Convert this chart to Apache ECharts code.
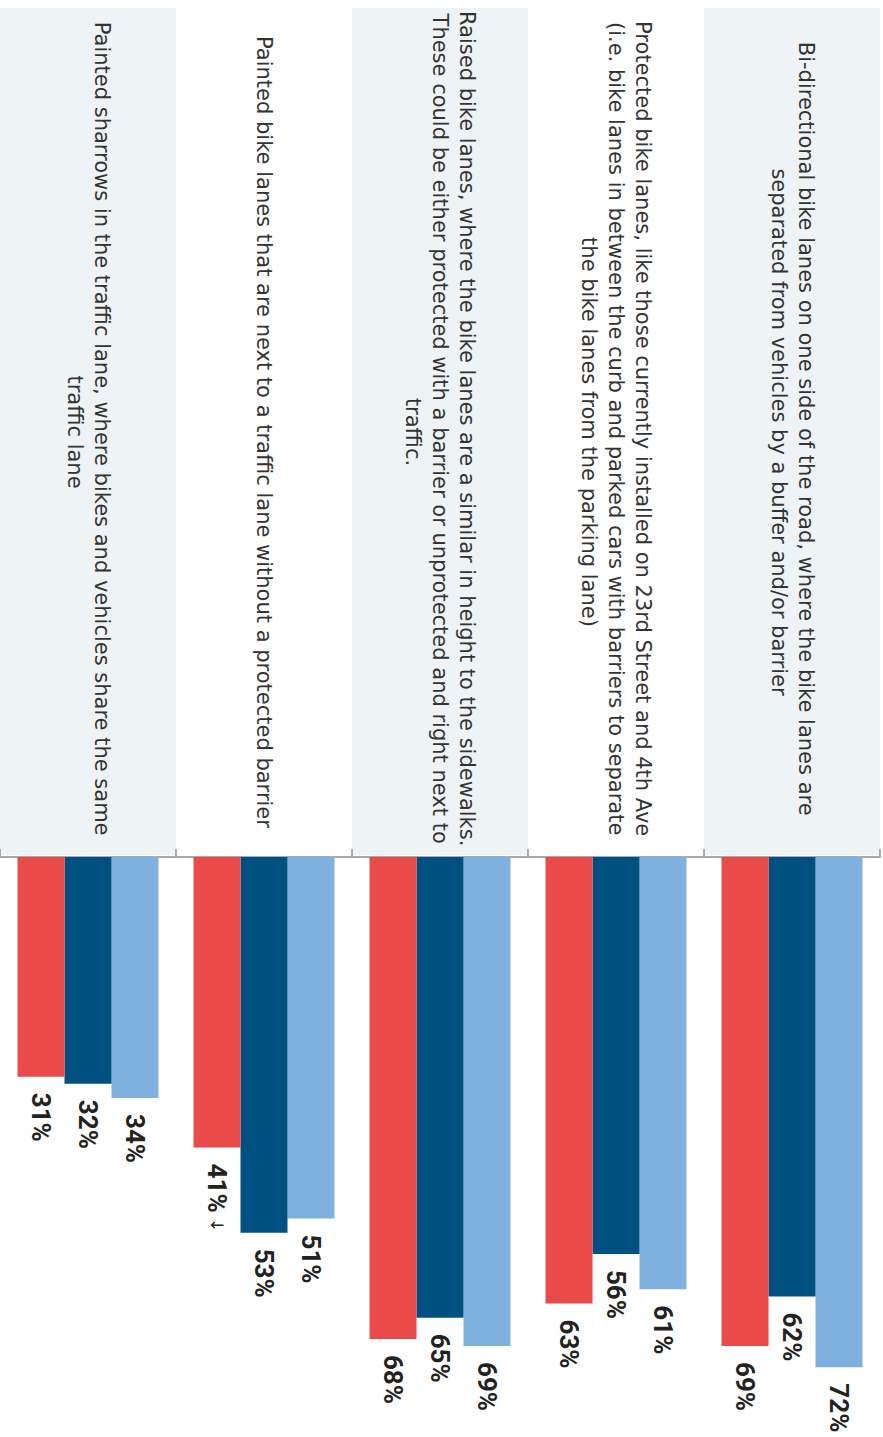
<!DOCTYPE html>
<html>
<head>
<meta charset="utf-8">
<script src="https://cdn.jsdelivr.net/npm/echarts@6/dist/echarts.min.js"></script>
<style>
  html, body { margin: 0; padding: 0; background: #ffffff; overflow: hidden; }
  #wrap { position: absolute; left: 0; top: 0; width: 1437px; height: 883px;
          transform-origin: 0 0; transform: translateX(883px) rotate(90deg); }
  #chart { width: 1437px; height: 883px; }
</style>
</head>
<body>
<div id="wrap"><div id="chart"></div></div>
<script>
// ---- data (top to bottom in the unrotated chart) ----
const categories = [
  "Bi-directional bike lanes on one side of the road, where the bike lanes are separated from vehicles by a buffer and/or barrier",
  "Protected bike lanes, like those currently installed on 23rd Street and 4th Ave (i.e. bike lanes in between the curb and parked cars with barriers to separate the bike lanes from the parking lane)",
  "Raised bike lanes, where the bike lanes are a similar in height to the sidewalks. These could be either protected with a barrier or unprotected and right next to traffic.",
  "Painted bike lanes that are next to a traffic lane without a protected barrier",
  "Painted sharrows in the traffic lane, where bikes and vehicles share the same traffic lane"
];
const seriesNames = ["Series 1", "Series 2", "Series 3"];
const lightValues = [72, 61, 69, 51, 34];
const darkValues  = [62, 56, 65, 53, 32];
const redValues   = [69, 63, 68, 41, 31];
const redNotes    = ["", "", "", "\u2193", ""];

const COLORS = { light: "#7fb1df", dark: "#005082", red: "#e94a4a", panel: "#eef3f6" };
const FONT = "'DejaVu Sans', 'Noto Sans', sans-serif";
const LABEL_FONT = "Roboto, 'Liberation Sans', sans-serif";

function valueLabel(notes) {
  return {
    show: true,
    position: "right",
    distance: 16,
    formatter: function (p) {
      const n = notes ? notes[p.dataIndex] : "";
      return "{v|" + p.value + "%}" + (n ? "{a| " + n + "}" : "");
    },
    rich: {
      v: { fontSize: 26, fontWeight: "bold", color: "#222", fontFamily: LABEL_FONT },
      a: { fontSize: 17, fontWeight: "normal", color: "#222", fontFamily: FONT }
    }
  };
}

const chart = echarts.init(document.getElementById("chart"), null, { renderer: "svg" });
chart.setOption({
  animation: false,
  backgroundColor: "#ffffff",
  grid: [
    { left: 857, right: 13, top: 3, bottom: 0 },
    { left: 8, width: 847, top: 3, bottom: 0 }
  ],
  xAxis: [
    { gridIndex: 0, type: "value", min: 0, max: 80, show: false },
    { gridIndex: 1, type: "value", min: 0, max: 1, show: false }
  ],
  yAxis: [
    {
      gridIndex: 0, type: "category", inverse: true, data: categories,
      axisLine: { show: true, lineStyle: { color: "#aaaaaa", width: 2 } },
      axisTick: { show: true, length: 8, lineStyle: { color: "#aaaaaa", width: 2 } },
      splitLine: { show: false },
      axisLabel: {
        margin: 425, align: "center", width: 850, overflow: "break",
        fontSize: 21, lineHeight: 27, color: "#333333", fontFamily: FONT
      }
    },
    {
      gridIndex: 1, type: "category", inverse: true, data: categories,
      axisLine: { show: false }, axisTick: { show: false }, axisLabel: { show: false },
      splitLine: { show: false },
      splitArea: { show: true, areaStyle: { color: [COLORS.panel, "#ffffff"] } }
    }
  ],
  series: [
    { name: seriesNames[0], type: "bar", data: lightValues, barWidth: 47, barGap: "0%",
      itemStyle: { color: COLORS.light }, label: valueLabel(null) },
    { name: seriesNames[1], type: "bar", data: darkValues, barWidth: 47, barGap: "0%",
      itemStyle: { color: COLORS.dark }, label: valueLabel(null) },
    { name: seriesNames[2], type: "bar", data: redValues, barWidth: 47, barGap: "0%",
      itemStyle: { color: COLORS.red }, label: valueLabel(redNotes) }
  ]
});
</script>
</body>
</html>
